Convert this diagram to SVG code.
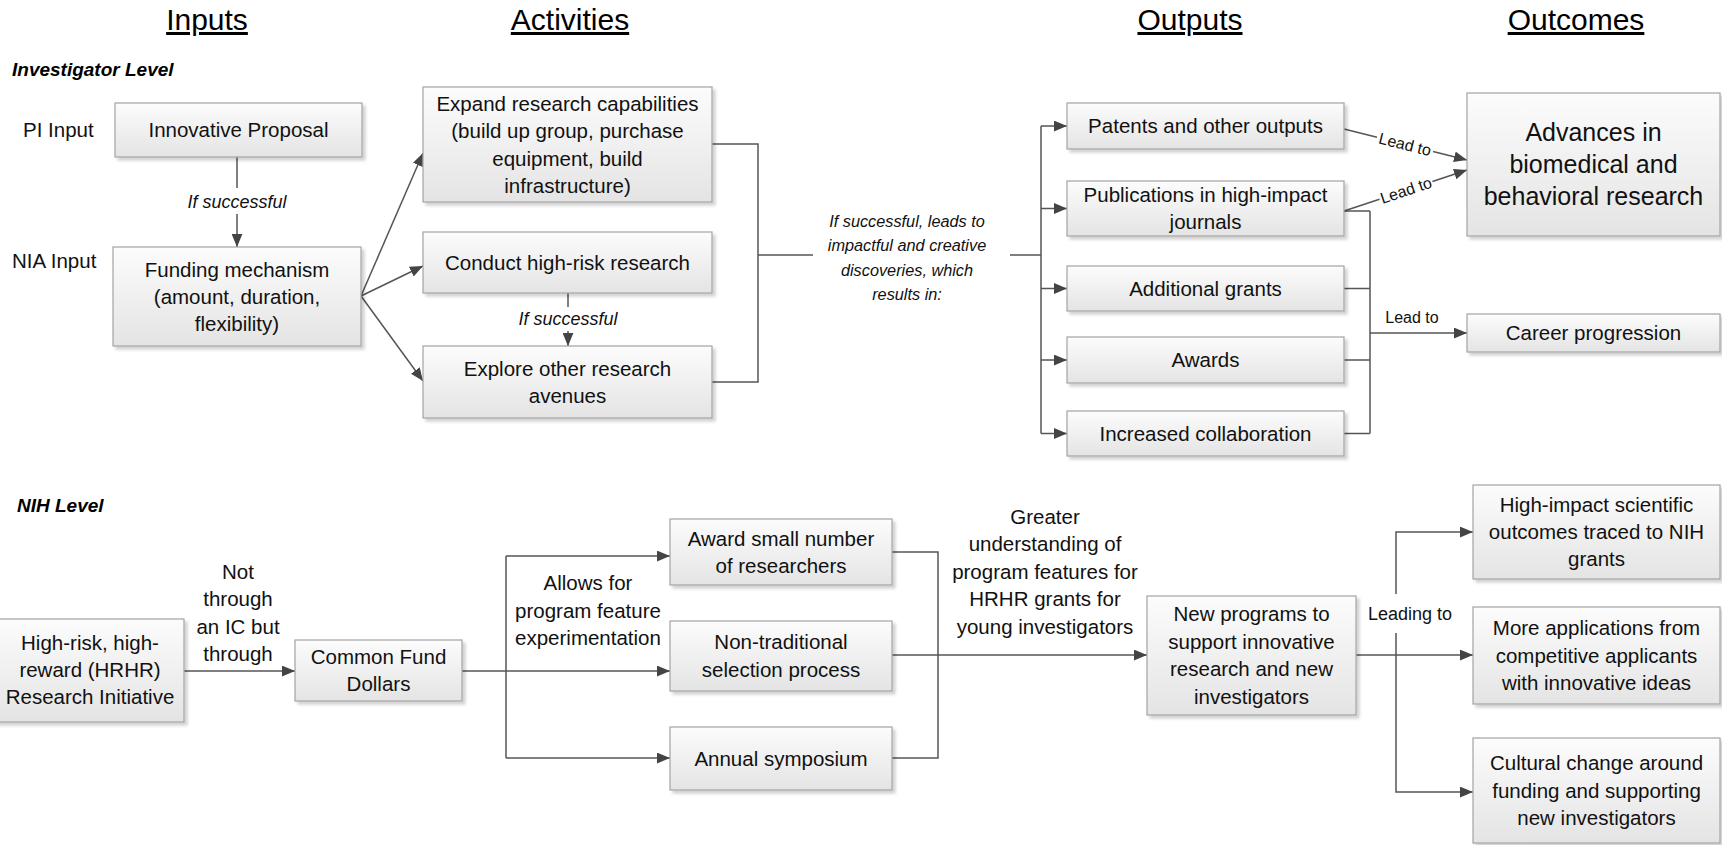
<svg xmlns="http://www.w3.org/2000/svg" width="1722" height="845" viewBox="0 0 1722 845">
<defs>
<linearGradient id="g" x1="0" y1="0" x2="0" y2="1">
<stop offset="0" stop-color="#fcfcfc"/>
<stop offset="1" stop-color="#e4e4e4"/>
</linearGradient>
<filter id="sh" x="-10%" y="-10%" width="130%" height="140%">
<feDropShadow dx="3" dy="3" stdDeviation="1.5" flood-color="#000" flood-opacity="0.18"/>
</filter>
<marker id="ah" viewBox="0 0 12 10" refX="12" refY="5" markerWidth="13" markerHeight="11" orient="auto" markerUnits="userSpaceOnUse">
<path d="M0,0 L12,5 L0,10 z" fill="#444"/>
</marker>
<style>
.box{fill:url(#g);stroke:#a3a3a3;stroke-width:1.2;filter:url(#sh)}
.t{font-family:"Liberation Sans",Arial,sans-serif;font-size:20.5px;fill:#111;text-anchor:middle}
.big{font-size:25px}
.lab{font-family:"Liberation Sans",Arial,sans-serif;font-size:20.5px;fill:#111;text-anchor:middle}
.it{font-family:"Liberation Sans",Arial,sans-serif;font-size:18px;font-style:italic;fill:#111;text-anchor:middle}
.it2{font-family:"Liberation Sans",Arial,sans-serif;font-size:16.3px;font-style:italic;fill:#111;text-anchor:middle}
.sm{font-family:"Liberation Sans",Arial,sans-serif;font-size:16px;fill:#111;text-anchor:middle}
.title{font-family:"Liberation Sans",Arial,sans-serif;font-size:30px;fill:#000;text-anchor:middle;text-decoration:underline}
.lvl{font-family:"Liberation Sans",Arial,sans-serif;font-size:19px;font-weight:bold;font-style:italic;fill:#000}
.side{font-family:"Liberation Sans",Arial,sans-serif;font-size:20.5px;fill:#111}
.c{fill:none;stroke:#555;stroke-width:1.5}
.a{fill:none;stroke:#555;stroke-width:1.5;marker-end:url(#ah)}
</style>
</defs>
<rect width="1722" height="845" fill="#fff"/>

<g id="titles">
<text class="title" x="207" y="30">Inputs</text>
<text class="title" x="570" y="30">Activities</text>
<text class="title" x="1190" y="30">Outputs</text>
<text class="title" x="1576" y="30">Outcomes</text>
<text class="lvl" x="12" y="76">Investigator Level</text>
<text class="lvl" x="17" y="512">NIH Level</text>
<text class="side" x="23" y="137">PI Input</text>
<text class="side" x="12" y="268">NIA Input</text>
</g>

<g id="connectors">
<line class="c" x1="237" y1="157" x2="237" y2="188"/>
<line class="a" x1="237" y1="214" x2="237" y2="247"/>
<line class="a" x1="361" y1="296" x2="423" y2="153"/>
<line class="a" x1="361" y1="296" x2="423" y2="266"/>
<line class="a" x1="361" y1="296" x2="423" y2="381"/>
<line class="c" x1="568" y1="293" x2="568" y2="307"/>
<line class="a" x1="568" y1="331" x2="568" y2="346"/>
<polyline class="c" points="712,144 758,144 758,382 712,382"/>
<line class="c" x1="758" y1="255" x2="813" y2="255"/>
<line class="c" x1="1010" y1="255" x2="1041" y2="255"/>
<line class="c" x1="1041" y1="126" x2="1041" y2="433.5"/>
<line class="a" x1="1041" y1="126" x2="1067" y2="126"/>
<line class="a" x1="1041" y1="208.5" x2="1067" y2="208.5"/>
<line class="a" x1="1041" y1="288.5" x2="1067" y2="288.5"/>
<line class="a" x1="1041" y1="360" x2="1067" y2="360"/>
<line class="a" x1="1041" y1="433.5" x2="1067" y2="433.5"/>
<line class="c" x1="1344" y1="129" x2="1377" y2="137.3"/>
<line class="a" x1="1433" y1="151.5" x2="1467" y2="160"/>
<line class="c" x1="1344" y1="211" x2="1379.5" y2="199.2"/>
<line class="a" x1="1432.5" y1="181.5" x2="1467" y2="170"/>
<line class="c" x1="1344" y1="211" x2="1370" y2="211"/>
<line class="c" x1="1370" y1="211" x2="1370" y2="433.5"/>
<line class="c" x1="1344" y1="288.5" x2="1370" y2="288.5"/>
<line class="c" x1="1344" y1="360" x2="1370" y2="360"/>
<line class="c" x1="1344" y1="433.5" x2="1370" y2="433.5"/>
<line class="a" x1="1370" y1="333" x2="1467" y2="333"/>

<line class="a" x1="184" y1="671" x2="295" y2="671"/>
<line class="a" x1="462" y1="671" x2="670" y2="671"/>
<line class="c" x1="506" y1="556" x2="506" y2="758"/>
<line class="a" x1="506" y1="556" x2="670" y2="556"/>
<line class="a" x1="506" y1="758" x2="670" y2="758"/>
<polyline class="c" points="892,552 938,552 938,758 892,758"/>
<line class="a" x1="892" y1="655" x2="1147" y2="655"/>
<line class="a" x1="1356" y1="655" x2="1473" y2="655"/>
<polyline class="a" points="1396,594 1396,532 1473,532"/>
<polyline class="a" points="1396,633 1396,792 1473,792"/>

<text class="it" x="237" y="208">If successful</text>
<text class="it" x="568" y="325">If successful</text>
<text class="it2" x="907" y="227">If successful, leads to</text>
<text class="it2" x="907" y="251">impactful and creative</text>
<text class="it2" x="907" y="276">discoveries, which</text>
<text class="it2" x="907" y="300">results in:</text>
<text class="sm" x="1405" y="144.4" dominant-baseline="central" transform="rotate(14.1 1405 144.4)">Lead to</text>
<text class="sm" x="1406" y="190.3" dominant-baseline="central" transform="rotate(-18.4 1406 190.3)">Lead to</text>
<text class="sm" x="1412" y="322.5">Lead to</text>
<text class="lab" x="238" y="579">Not</text>
<text class="lab" x="238" y="606">through</text>
<text class="lab" x="238" y="634">an IC but</text>
<text class="lab" x="238" y="661">through</text>
<text class="lab" x="588" y="590">Allows for</text>
<text class="lab" x="588" y="618">program feature</text>
<text class="lab" x="588" y="645">experimentation</text>
<text class="lab" x="1045" y="524">Greater</text>
<text class="lab" x="1045" y="551">understanding of</text>
<text class="lab" x="1045" y="579">program features for</text>
<text class="lab" x="1045" y="606">HRHR grants for</text>
<text class="lab" x="1045" y="634">young investigators</text>
<text class="lab" x="1410" y="620" style="font-size:18px">Leading to</text>
</g>

<g id="n-innovative">
<rect class="box" x="115" y="103" width="247" height="54"/>
<text class="t" x="238.5" y="137">Innovative Proposal</text>
</g>
<g id="n-funding">
<rect class="box" x="113" y="247" width="248" height="99"/>
<text class="t" x="237" y="277">Funding mechanism</text>
<text class="t" x="237" y="304">(amount, duration,</text>
<text class="t" x="237" y="331">flexibility)</text>
</g>
<g id="n-expand">
<rect class="box" x="423" y="87" width="289" height="115"/>
<text class="t" x="567.5" y="110.5">Expand research capabilities</text>
<text class="t" x="567.5" y="138">(build up group, purchase</text>
<text class="t" x="567.5" y="165.5">equipment, build</text>
<text class="t" x="567.5" y="193">infrastructure)</text>
</g>
<g id="n-conduct">
<rect class="box" x="423" y="232" width="289" height="61"/>
<text class="t" x="567.5" y="270">Conduct high-risk research</text>
</g>
<g id="n-explore">
<rect class="box" x="423" y="346" width="289" height="72"/>
<text class="t" x="567.5" y="375.5">Explore other research</text>
<text class="t" x="567.5" y="403">avenues</text>
</g>
<g id="n-patents">
<rect class="box" x="1067" y="103" width="277" height="46"/>
<text class="t" x="1205.5" y="133">Patents and other outputs</text>
</g>
<g id="n-publications">
<rect class="box" x="1067" y="181" width="277" height="55"/>
<text class="t" x="1205.5" y="202">Publications in high-impact</text>
<text class="t" x="1205.5" y="229">journals</text>
</g>
<g id="n-grants">
<rect class="box" x="1067" y="266" width="277" height="45"/>
<text class="t" x="1205.5" y="295.5">Additional grants</text>
</g>
<g id="n-awards">
<rect class="box" x="1067" y="337" width="277" height="46"/>
<text class="t" x="1205.5" y="367">Awards</text>
</g>
<g id="n-collab">
<rect class="box" x="1067" y="411" width="277" height="45"/>
<text class="t" x="1205.5" y="440.5">Increased collaboration</text>
</g>
<g id="n-advances">
<rect class="box" x="1467" y="93" width="253" height="143"/>
<text class="t big" x="1593.5" y="141">Advances in</text>
<text class="t big" x="1593.5" y="173">biomedical and</text>
<text class="t big" x="1593.5" y="205">behavioral research</text>
</g>
<g id="n-career">
<rect class="box" x="1467" y="314" width="253" height="38"/>
<text class="t" x="1593.5" y="340">Career progression</text>
</g>

<g id="n-hrhr">
<rect class="box" x="-4" y="619" width="188" height="103"/>
<text class="t" x="90" y="650">High-risk, high-</text>
<text class="t" x="90" y="677">reward (HRHR)</text>
<text class="t" x="90" y="704">Research Initiative</text>
</g>
<g id="n-common">
<rect class="box" x="295" y="640" width="167" height="61"/>
<text class="t" x="378.5" y="664">Common Fund</text>
<text class="t" x="378.5" y="691">Dollars</text>
</g>
<g id="n-award">
<rect class="box" x="670" y="519" width="222" height="66"/>
<text class="t" x="781" y="545.5">Award small number</text>
<text class="t" x="781" y="573">of researchers</text>
</g>
<g id="n-nontrad">
<rect class="box" x="670" y="621" width="222" height="70"/>
<text class="t" x="781" y="649">Non-traditional</text>
<text class="t" x="781" y="676.5">selection process</text>
</g>
<g id="n-symposium">
<rect class="box" x="670" y="727" width="222" height="63"/>
<text class="t" x="781" y="765.5">Annual symposium</text>
</g>
<g id="n-newprog">
<rect class="box" x="1147" y="596" width="209" height="119"/>
<text class="t" x="1251.5" y="621">New programs to</text>
<text class="t" x="1251.5" y="648.5">support innovative</text>
<text class="t" x="1251.5" y="676">research and new</text>
<text class="t" x="1251.5" y="703.5">investigators</text>
</g>
<g id="n-highimpact">
<rect class="box" x="1473" y="485" width="247" height="94"/>
<text class="t" x="1596.5" y="512">High-impact scientific</text>
<text class="t" x="1596.5" y="539">outcomes traced to NIH</text>
<text class="t" x="1596.5" y="566">grants</text>
</g>
<g id="n-moreapps">
<rect class="box" x="1473" y="607" width="247" height="97"/>
<text class="t" x="1596.5" y="635">More applications from</text>
<text class="t" x="1596.5" y="662.5">competitive applicants</text>
<text class="t" x="1596.5" y="690">with innovative ideas</text>
</g>
<g id="n-cultural">
<rect class="box" x="1473" y="738" width="247" height="105"/>
<text class="t" x="1596.5" y="770">Cultural change around</text>
<text class="t" x="1596.5" y="797.5">funding and supporting</text>
<text class="t" x="1596.5" y="825">new investigators</text>
</g>
</svg>
